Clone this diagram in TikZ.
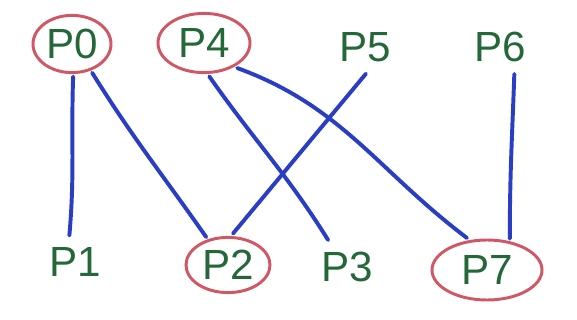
\documentclass[tikz,border=0pt]{standalone}
\usepackage{fontspec}
\setmainfont{Liberation Sans}
\usepackage{tikz}
\usetikzlibrary{shapes.geometric}

\definecolor{penGreen}{RGB}{36,104,58}
\definecolor{penRed}{RGB}{208,88,100}
\definecolor{penBlue}{RGB}{42,62,196}

\begin{document}
\begin{tikzpicture}[
  x=0.025cm, y=-0.025cm,
  proc/.style={inner sep=0pt, outer sep=0.3cm, text=penGreen, font=\fontsize{30}{32}\selectfont},
  chosen/.style={proc, ellipse, draw=penRed, line width=2.1pt, inner sep=0pt, outer sep=0.1cm},
  link/.style={draw=penBlue, line width=2.8pt, line cap=round, line join=round}
]
  \useasboundingbox (0,0) rectangle (577,320);

  % Top row
  \node[chosen, minimum width=1.95cm, minimum height=1.43cm] (p0) at (72,44) {P0};
  \node[chosen, minimum width=2.3cm, minimum height=1.48cm] (p4) at (204,43) {P4};
  \node[proc] (p5) at (365,47) {P5};
  \node[proc] (p6) at (500,47) {P6};

  % Bottom row
  \node[proc] (p1) at (75,262) {P1};
  \node[chosen, minimum width=2.1cm, minimum height=1.38cm] (p2) at (228,265) {P2};
  \node[proc] (p3) at (347,267) {P3};
  \node[chosen, minimum width=2.75cm, minimum height=1.5cm] (p7) at (487,270) {P7};

  % Links
  \draw[link] (p0.-88) to[out=-92, in=85] (p1.102);
  \draw[link] (p0.-55) to[out=-58, in=125] (p2.128);
  \draw[link] (p4.-81) to[out=-55, in=122] (p3.125);
  \draw[link] (p4.-37) to[out=-20, in=143] (p7.122);
  \draw[link] (p5.-88) -- (p2.81);
  \draw[link] (p6.-62) to[out=-92, in=90] (p7.54);
\end{tikzpicture}
\end{document}
